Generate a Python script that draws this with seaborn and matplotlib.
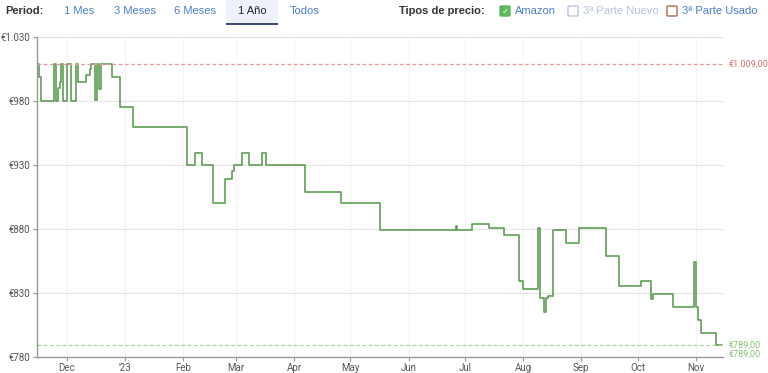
import matplotlib
matplotlib.use("Agg")
import matplotlib.pyplot as plt
import matplotlib.patches as mpatches
import seaborn as sns
import pandas as pd

# ---- data ----
dates = ["2022-11-15", "2022-11-16", "2022-11-17", "2022-11-24", "2022-11-25", "2022-11-26",
         "2022-11-27", "2022-11-28", "2022-11-29", "2022-12-01", "2022-12-03", "2022-12-06",
         "2022-12-07", "2022-12-11", "2022-12-13", "2022-12-14", "2022-12-16", "2022-12-17",
         "2022-12-18", "2022-12-19", "2022-12-25", "2022-12-29", "2023-01-05", "2023-02-03",
         "2023-02-07", "2023-02-11", "2023-02-17", "2023-02-23", "2023-02-27", "2023-02-28",
         "2023-03-04", "2023-03-08", "2023-03-15", "2023-03-17", "2023-04-07", "2023-04-26",
         "2023-05-17", "2023-06-26", "2023-06-27", "2023-07-05", "2023-07-14", "2023-07-22",
         "2023-07-30", "2023-08-01", "2023-08-09", "2023-08-10", "2023-08-12", "2023-08-13",
         "2023-08-14", "2023-08-17", "2023-08-24", "2023-08-31", "2023-09-06", "2023-09-14",
         "2023-09-21", "2023-10-03", "2023-10-08", "2023-10-09", "2023-10-20", "2023-10-31",
         "2023-11-01", "2023-11-02", "2023-11-04", "2023-11-12", "2023-11-15"]
prices = [1009, 999, 980, 1009, 980, 990, 995, 1009, 980, 1009, 980, 1009, 995, 1000, 1005,
          1009, 981, 1009, 989, 1009, 999, 975, 960, 930, 939, 930, 900, 919, 925, 930, 939,
          930, 939, 930, 909, 900, 879, 882, 879, 884, 881, 875, 839, 833, 881, 826, 815, 826,
          828, 879, 869, 881, 880.5, 859, 835.5, 839, 825, 829, 819, 854.5, 819, 809, 799,
          789, 789]
max_price = 1009
min_price = 789
y_ticks = [780, 830, 880, 930, 980, 1030]
y_labels = ["€780", "€830", "€880", "€930", "€980", "€1.030"]
month_ticks = ["2022-12-01", "2023-01-01", "2023-02-01", "2023-03-01", "2023-04-01",
               "2023-05-01", "2023-06-01", "2023-07-01", "2023-08-01", "2023-09-01",
               "2023-10-01", "2023-11-01"]
month_labels = ["Dec", "'23", "Feb", "Mar", "Apr", "May", "Jun", "Jul", "Aug", "Sep", "Oct", "Nov"]
periods = ["1 Mes", "3 Meses", "6 Meses", "1 Año", "Todos"]
price_types = ["Amazon", "3ª Parte Nuevo", "3ª Parte Usado"]

df = pd.DataFrame({"date": pd.to_datetime(dates), "price": prices})

sns.set_theme(style="white")
plt.rcParams["font.family"] = ["Roboto", "DejaVu Sans"]

W, H = 768, 373
fig = plt.figure(figsize=(W / 100, H / 100), dpi=100)
fig.patch.set_facecolor("white")

def fx(x):
    return x / W

def fy(y):
    return 1 - y / H

ax = fig.add_axes([fx(37), fy(357), fx(723) - fx(37), fy(37) - fy(357)])

green = "#5f9e55"
sns.lineplot(data=df, x="date", y="price", ax=ax, drawstyle="steps-post",
             color=green, linewidth=1.2, sort=False, estimator=None)

ax.axhline(max_price, color="#e39a9a", linestyle=(0, (3, 2)), linewidth=0.9)
ax.axhline(min_price, color="#a9d79c", linestyle=(0, (3, 2)), linewidth=0.9)

ax.set_xlim(pd.Timestamp("2022-11-15"), pd.Timestamp("2023-11-15 12:00"))
ax.set_ylim(780, 1030)
ax.set_yticks(y_ticks)
ax.set_yticklabels(y_labels)
ax.set_xticks(pd.to_datetime(month_ticks))
ax.set_xticklabels(month_labels)
ax.set_xlabel("")
ax.set_ylabel("")

ax.grid(True, axis="y", color="#e4e4e4", linewidth=0.8)
ax.grid(True, axis="x", color="#f3f3f3", linewidth=0.8)
ax.set_axisbelow(True)
for s in ["top", "right"]:
    ax.spines[s].set_visible(False)
ax.spines["left"].set_color("#9a9a9a")
ax.spines["bottom"].set_color("#9a9a9a")
ax.spines["left"].set_linewidth(1.0)
ax.spines["bottom"].set_linewidth(1.0)
ax.tick_params(axis="both", which="both", length=3, width=0.8, color="#9a9a9a",
               labelsize=7, labelcolor="#555555", pad=2, left=True, bottom=True)
ax.tick_params(axis="x", pad=1.5)

# right-side labels
ax.annotate("€1.009,00", xy=(1.0, max_price), xycoords=("axes fraction", "data"),
            xytext=(4, 0), textcoords="offset points", va="center", ha="left",
            fontsize=6.5, color="#d96a6a", annotation_clip=False)
ax.annotate("€789,00", xy=(1.0, min_price), xycoords=("axes fraction", "data"),
            xytext=(4, 0), textcoords="offset points", va="center", ha="left",
            fontsize=6.5, color="#86c279", annotation_clip=False)
ax.annotate("€789,00", xy=(1.0, min_price), xycoords=("axes fraction", "data"),
            xytext=(4, -6.5), textcoords="offset points", va="center", ha="left",
            fontsize=6.5, color="#86c279", annotation_clip=False)

# ---- header ----
hy = fy(11)
fig.text(fx(5), hy, "Period:", fontsize=8, fontweight="bold", color="#333333",
         va="center", ha="left", family=["Liberation Sans", "DejaVu Sans"])
blue = "#4a7dc9"
# selected tab background
fig.add_artist(mpatches.Rectangle((fx(226), fy(24)), fx(278) - fx(226), fy(0) - fy(24),
                                  transform=fig.transFigure, facecolor="#eef1f9",
                                  edgecolor="none"))
fig.add_artist(mpatches.Rectangle((fx(226), fy(25)), fx(278) - fx(226), fy(23) - fy(25),
                                  transform=fig.transFigure, facecolor="#3d4a78",
                                  edgecolor="none"))
period_x = [79, 135, 195, 252, 305]
for px_, lab in zip(period_x, periods):
    col = "#222222" if lab == "1 Año" else blue
    fig.text(fx(px_), hy, lab, fontsize=8, color=col, va="center", ha="center",
             family=["Liberation Sans", "DejaVu Sans"])

fig.text(fx(485), hy, "Tipos de precio:", fontsize=8, fontweight="bold", color="#333333",
         va="center", ha="right", family=["Liberation Sans", "DejaVu Sans"])

box_x = [500, 568, 667]
box_face = ["#5cb85c", "white", "white"]
box_edge = ["#5cb85c", "#b9c6e0", "#b5694a"]
text_col = [blue, "#b8c4de", blue]
for bx, fc, ec, lab, tc in zip(box_x, box_face, box_edge, price_types, text_col):
    fig.add_artist(mpatches.FancyBboxPatch((fx(bx), fy(16)), fx(10), fy(6) - fy(16),
                                           boxstyle="round,pad=0,rounding_size=0.002",
                                           transform=fig.transFigure, facecolor=fc,
                                           edgecolor=ec, linewidth=1.0))
    fig.text(fx(bx + 15), hy, lab, fontsize=8, color=tc, va="center", ha="left",
             family=["Liberation Sans", "DejaVu Sans"])
fig.text(fx(505), fy(11), "✓", fontsize=6, color="white", va="center", ha="center",
         fontweight="bold", family=["DejaVu Sans"])

fig.savefig("out.png", dpi=100, facecolor="white")
